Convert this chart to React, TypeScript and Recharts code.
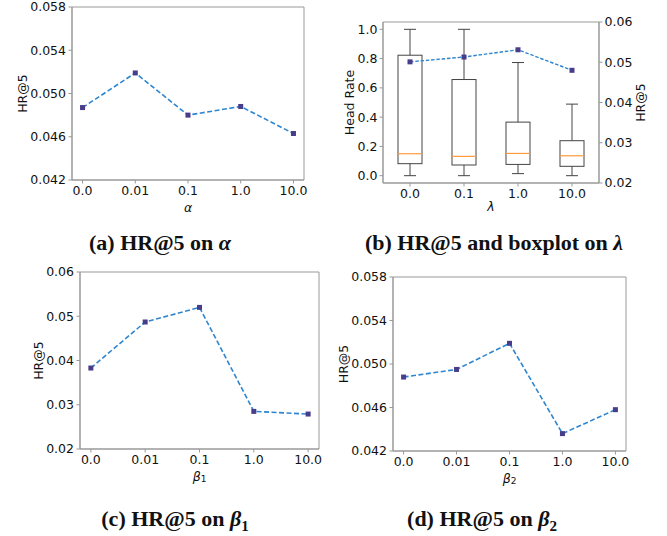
import React from 'react'
import { LineChart, ComposedChart, Line, Bar, XAxis, YAxis, Label, ReferenceArea } from 'recharts'

// (a) HR@5 vs alpha
const alphaCats = ['0.0', '0.01', '0.1', '1.0', '10.0']
const alphaHR = [0.0487, 0.0519, 0.048, 0.0488, 0.0463]

// (b) HR@5 and head-rate boxplot vs lambda
const lambdaCats = ['0.0', '0.1', '1.0', '10.0']
const lambdaHR = [0.0501, 0.0513, 0.0531, 0.048]
const headMin = [0.0, 0.0, 0.014, 0.0]
const headQ1 = [0.082, 0.073, 0.077, 0.064]
const headMedian = [0.15, 0.132, 0.152, 0.136]
const headQ3 = [0.823, 0.657, 0.366, 0.239]
const headMax = [1.0, 1.0, 0.773, 0.489]

// (c) beta1, (d) beta2
const betaCats = ['0.0', '0.01', '0.1', '1.0', '10.0']
const beta1HR = [0.0383, 0.0487, 0.052, 0.0285, 0.0279]
const beta2HR = [0.0488, 0.0495, 0.0519, 0.0436, 0.0458]

const ticks058 = [0.042, 0.046, 0.05, 0.054, 0.058]
const ticks06 = [0.02, 0.03, 0.04, 0.05, 0.06]
const headTicks = [0, 0.2, 0.4, 0.6, 0.8, 1.0]

const alphaData = alphaCats.map((name, i) => ({ x: i, name, hr: alphaHR[i] }))
const beta1Data = betaCats.map((name, i) => ({ x: i, name, hr: beta1HR[i] }))
const beta2Data = betaCats.map((name, i) => ({ x: i, name, hr: beta2HR[i] }))
const lambdaData = lambdaCats.map((name, i) => ({
  name,
  hr: lambdaHR[i],
  min: headMin[i],
  q1: headQ1[i],
  median: headMedian[i],
  q3: headQ3[i],
  max: headMax[i],
}))

const FONT = 'DejaVu Sans'
const TICK = { fontFamily: FONT, fontSize: 12.5, fill: '#111' }
const SPINE = '#999'
const LINE = '#2e86d0'
const MARK = '#483d8b'

function SquareDot(props: any) {
  const { cx, cy } = props
  if (cx == null || cy == null) return <g />
  return <rect x={cx - 2.5} y={cy - 2.5} width={5} height={5} fill={MARK} />
}

const yLabel = (text: string, dx: number) => (props: any) => {
  const vb = props.viewBox
  const cx = vb.x + dx
  const cy = vb.y + vb.height / 2
  return (
    <text x={cx} y={cy} transform={`rotate(-90 ${cx} ${cy})`} textAnchor="middle" dominantBaseline="central"
      fontFamily={FONT} fontSize={12.5} fill="#111">
      {text}
    </text>
  )
}

const xLabel = (sym: string, sub: string | null, dy: number) => (props: any) => {
  const vb = props.viewBox
  const cx = vb.x + vb.width / 2
  const cy = vb.y + dy
  return (
    <text x={cx} y={cy} textAnchor="middle" dominantBaseline="central" fontFamily={FONT} fontSize={12.5} fill="#111">
      <tspan fontStyle="italic">{sym}</tspan>
      {sub && <tspan fontSize={9} dy={3}>{sub}</tspan>}
    </text>
  )
}

function BoxShape(props: any) {
  const { x, y, width, height, payload } = props
  const top = Math.min(y, y + height)
  const h = Math.abs(height)
  const lo = payload.min
  const hi = payload.max
  const px = (v: number) => top + ((hi - v) / (hi - lo)) * h
  const cx = x + width / 2
  const cap = width / 4
  const q1 = px(payload.q1)
  const q3 = px(payload.q3)
  const med = px(payload.median)
  const s = '#444'
  return (
    <g>
      <line x1={cx} x2={cx} y1={px(hi)} y2={q3} stroke={s} />
      <line x1={cx} x2={cx} y1={q1} y2={px(lo)} stroke={s} />
      <line x1={cx - cap} x2={cx + cap} y1={px(hi)} y2={px(hi)} stroke={s} />
      <line x1={cx - cap} x2={cx + cap} y1={px(lo)} y2={px(lo)} stroke={s} />
      <rect x={x} y={q3} width={width} height={q1 - q3} fill="none" stroke={s} />
      <line x1={x} x2={x + width} y1={med} y2={med} stroke="#ff9a3c" strokeWidth={1.2} />
    </g>
  )
}

interface HRPanelProps {
  data: Array<{ x: number; name: string; hr: number }>
  width: number
  height: number
  margin: { top: number; right: number; left: number; bottom: number }
  yWidth: number
  xHeight: number
  domain: [number, number]
  ticks: number[]
  digits: number
  labelDx: number
  sym: string
  sub: string | null
}

function HRPanel(p: HRPanelProps) {
  const xs = p.data.map((d) => d.x)
  const xDomain: [number, number] = [xs[0] - 0.2, xs[xs.length - 1] + 0.2]
  return (
    <LineChart width={p.width} height={p.height} data={p.data} margin={p.margin}>
      <XAxis dataKey="x" type="number" domain={xDomain} ticks={xs} allowDataOverflow interval={0}
        tickFormatter={(v: number) => p.data[v].name} tick={TICK}
        tickSize={3.5} tickMargin={3} axisLine={{ stroke: SPINE }} tickLine={{ stroke: SPINE }} height={p.xHeight}>
        <Label content={xLabel(p.sym, p.sub, 27)} />
      </XAxis>
      <YAxis type="number" domain={p.domain} ticks={p.ticks} allowDataOverflow interval={0}
        tickFormatter={(v: number) => v.toFixed(p.digits)} tick={TICK} tickSize={3.5} tickMargin={2.5}
        axisLine={{ stroke: SPINE }} tickLine={{ stroke: SPINE }} width={p.yWidth}>
        <Label content={yLabel('HR@5', p.labelDx)} />
      </YAxis>
      <ReferenceArea x1={xDomain[0]} x2={xDomain[1]} y1={p.domain[0]} y2={p.domain[1]} fill="none"
        stroke={SPINE} ifOverflow="visible" />
      <Line dataKey="hr" stroke={LINE} strokeWidth={1.6} strokeDasharray="5 2.5" isAnimationActive={false}
        dot={(d: any) => <SquareDot key={d.index} {...d} />} activeDot={false} />
    </LineChart>
  )
}

function LambdaPanel() {
  return (
    <ComposedChart width={337} height={215} data={lambdaData} margin={{ top: 22, right: 0, left: 0, bottom: 0 }}>
      <XAxis dataKey="name" tick={TICK} tickSize={3.5} tickMargin={3} axisLine={{ stroke: SPINE }}
        tickLine={{ stroke: SPINE }} height={32}>
        <Label content={xLabel('λ', null, 23)} />
      </XAxis>
      <YAxis yAxisId="left" type="number" domain={[-0.05, 1.05]} ticks={headTicks} allowDataOverflow interval={0}
        tickFormatter={(v: number) => v.toFixed(1)} tick={TICK} tickSize={3.5} tickMargin={2}
        axisLine={{ stroke: SPINE }} tickLine={{ stroke: SPINE }} width={53}>
        <Label content={yLabel('Head Rate', 19)} />
      </YAxis>
      <YAxis yAxisId="right" orientation="right" type="number" domain={[0.02, 0.06]} ticks={ticks06}
        allowDataOverflow interval={0} tickFormatter={(v: number) => v.toFixed(2)} tick={TICK} tickSize={3.5}
        tickMargin={2} axisLine={{ stroke: SPINE }} tickLine={{ stroke: SPINE }} width={68}>
        <Label content={yLabel('HR@5', 41)} />
      </YAxis>
      <ReferenceArea yAxisId="left" y1={-0.05} y2={1.05} fill="none" stroke={SPINE} ifOverflow="visible" />
      <Bar yAxisId="left" dataKey={(d: any) => [d.min, d.max]} barSize={24} isAnimationActive={false}
        shape={(s: any) => <BoxShape {...s} />} />
      <Line yAxisId="right" dataKey="hr" stroke={LINE} strokeWidth={1.4} strokeDasharray="3.5 1.8"
        isAnimationActive={false} dot={(d: any) => <SquareDot key={d.index} {...d} />} activeDot={false} />
    </ComposedChart>
  )
}

const captionStyle: React.CSSProperties = {
  position: 'absolute',
  width: 330,
  textAlign: 'center',
  fontFamily: 'Liberation Serif',
  fontWeight: 'bold',
  fontSize: 22,
  lineHeight: '22px',
  color: '#111',
  whiteSpace: 'nowrap',
}

export default function App() {
  return (
    <div style={{ position: 'absolute', left: 0, top: 0, width: 667, height: 536, background: '#fff' }}>
      <div style={{ position: 'absolute', left: 0, top: 0 }}>
        <HRPanel data={alphaData} width={330} height={215} margin={{ top: 7, right: 26, left: 0, bottom: 0 }}
          yWidth={72} xHeight={35} domain={[0.042, 0.058]} ticks={ticks058} digits={3} labelDx={22}
          sym="α" sub={null} />
      </div>
      <div style={{ position: 'absolute', left: 330, top: 0 }}>
        <LambdaPanel />
      </div>
      <div style={{ position: 'absolute', left: 0, top: 260 }}>
        <HRPanel data={beta1Data} width={330} height={240} margin={{ top: 12, right: 11, left: 0, bottom: 0 }}
          yWidth={80} xHeight={51} domain={[0.02, 0.06]} ticks={ticks06} digits={2} labelDx={38}
          sym="β" sub="1" />
      </div>
      <div style={{ position: 'absolute', left: 330, top: 260 }}>
        <HRPanel data={beta2Data} width={337} height={240} margin={{ top: 17, right: 41, left: 0, bottom: 0 }}
          yWidth={63} xHeight={49} domain={[0.042, 0.058]} ticks={ticks058} digits={3} labelDx={13}
          sym="β" sub="2" />
      </div>
      <div style={{ ...captionStyle, left: -5, top: 232 }}>
        (a) HR@5 on <i>α</i>
      </div>
      <div style={{ ...captionStyle, left: 329, top: 232 }}>
        (b) HR@5 and boxplot on <i>λ</i>
      </div>
      <div style={{ ...captionStyle, left: 10, top: 508 }}>
        (c) HR@5 on <i>β</i><sub style={{ fontSize: 15, lineHeight: 0 }}>1</sub>
      </div>
      <div style={{ ...captionStyle, left: 317, top: 508 }}>
        (d) HR@5 on <i>β</i><sub style={{ fontSize: 15, lineHeight: 0 }}>2</sub>
      </div>
    </div>
  )
}
